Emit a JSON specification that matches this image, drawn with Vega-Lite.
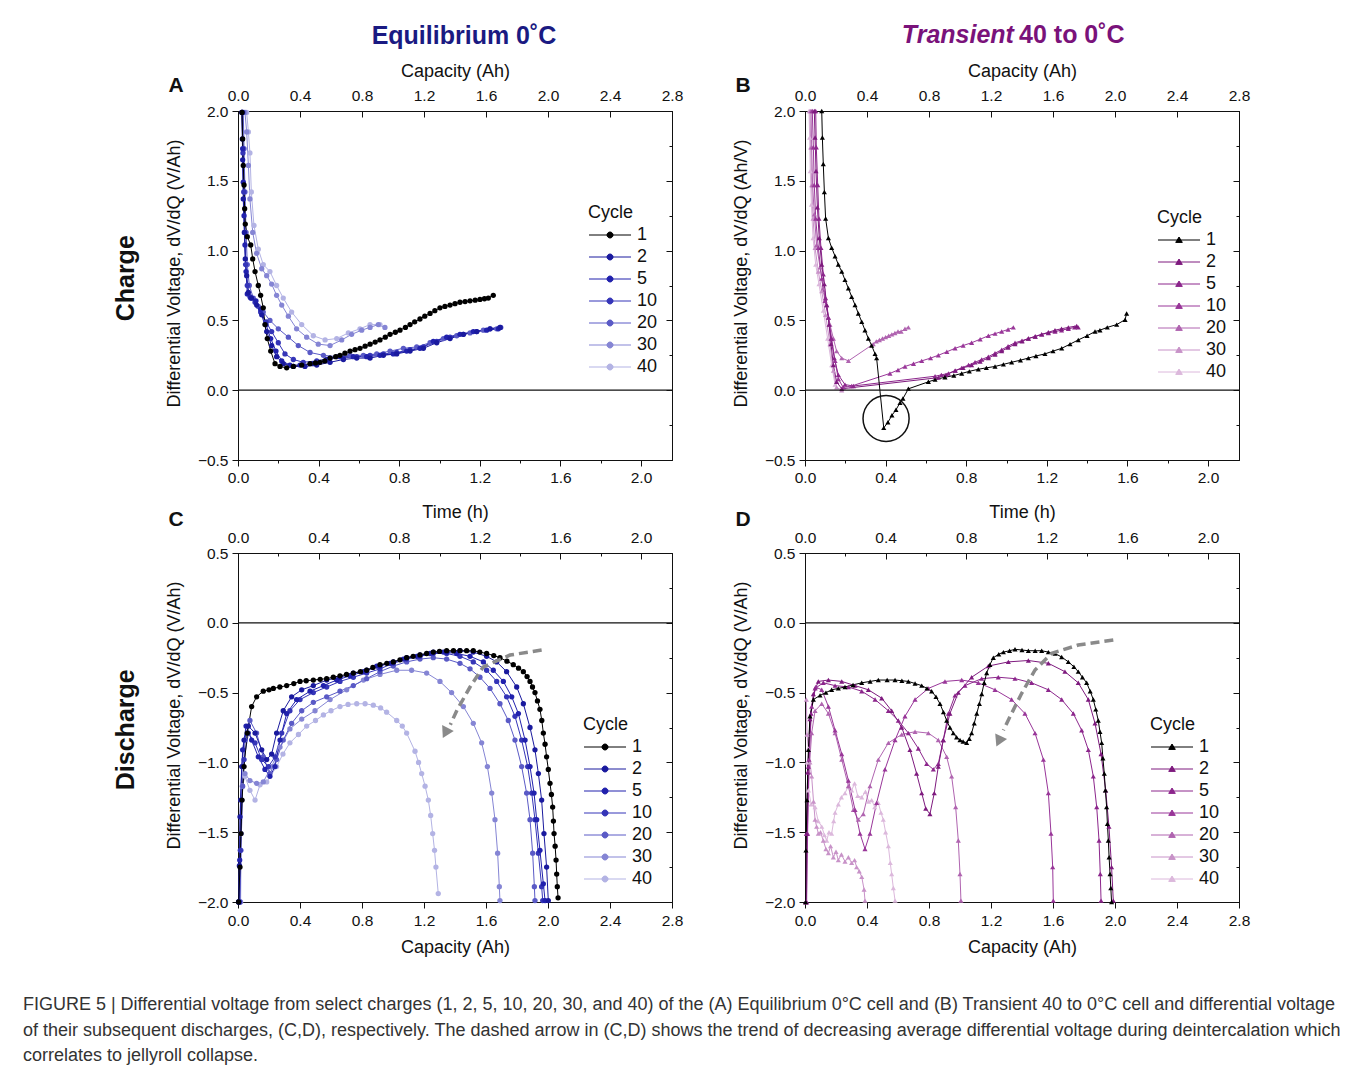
{
"$schema": "https://vega.github.io/schema/vega-lite/v6.json",
"background": "white",
"padding": {"left": 22, "top": 22, "right": 5, "bottom": 5},
"config": {
  "font": "Liberation Sans",
  "view": {"stroke": "#111", "strokeWidth": 1},
  "axis": {"labelFont": "Liberation Sans", "titleFont": "Liberation Sans", "labelFontSize": 15.5, "titleFontSize": 18, "labelColor": "#111", "titleColor": "#111", "titleFontWeight": "normal", "domainColor": "#111", "tickColor": "#111", "grid": false, "labelFlush": false, "labelOverlap": false, "labelBound": false, "tickWidth": 1, "domainWidth": 1},
  "legend": {"labelFont": "Liberation Sans", "titleFont": "Liberation Sans"},
  "title": {"font": "Liberation Sans"},
  "text": {"font": "Liberation Sans"}
},
"datasets": {
"A": [
{"c":"40","x":0.056,"y":1.99},{"c":"40","x":0.067,"y":1.85},{"c":"40","x":0.077,"y":1.7},{"c":"40","x":0.086,"y":1.42},{"c":"40","x":0.103,"y":1.18},{"c":"40","x":0.131,"y":1.01},{"c":"40","x":0.163,"y":0.9},{"c":"40","x":0.206,"y":0.85},{"c":"40","x":0.249,"y":0.75},{"c":"40","x":0.292,"y":0.66},{"c":"40","x":0.346,"y":0.56},{"c":"40","x":0.411,"y":0.47},{"c":"40","x":0.486,"y":0.39},{"c":"40","x":0.562,"y":0.36},{"c":"40","x":0.637,"y":0.37},{"c":"40","x":0.712,"y":0.41},{"c":"40","x":0.787,"y":0.44},{"c":"40","x":0.852,"y":0.47},{"c":"40","x":0.916,"y":0.47},
{"c":"30","x":0.045,"y":1.99},{"c":"30","x":0.056,"y":1.85},{"c":"30","x":0.067,"y":1.61},{"c":"30","x":0.077,"y":1.37},{"c":"30","x":0.095,"y":1.13},{"c":"30","x":0.12,"y":0.98},{"c":"30","x":0.153,"y":0.87},{"c":"30","x":0.185,"y":0.82},{"c":"30","x":0.217,"y":0.76},{"c":"30","x":0.249,"y":0.68},{"c":"30","x":0.282,"y":0.61},{"c":"30","x":0.325,"y":0.53},{"c":"30","x":0.378,"y":0.44},{"c":"30","x":0.443,"y":0.38},{"c":"30","x":0.518,"y":0.33},{"c":"30","x":0.594,"y":0.32},{"c":"30","x":0.669,"y":0.36},{"c":"30","x":0.733,"y":0.4},{"c":"30","x":0.798,"y":0.43},{"c":"30","x":0.852,"y":0.45},{"c":"30","x":0.905,"y":0.47},{"c":"30","x":0.948,"y":0.45},
{"c":"20","x":0.034,"y":1.99},{"c":"20","x":0.039,"y":1.73},{"c":"20","x":0.045,"y":1.42},{"c":"20","x":0.052,"y":1.13},{"c":"20","x":0.06,"y":0.9},{"c":"20","x":0.073,"y":0.75},{"c":"20","x":0.099,"y":0.66},{"c":"20","x":0.131,"y":0.6},{"c":"20","x":0.163,"y":0.56},{"c":"20","x":0.206,"y":0.5},{"c":"20","x":0.26,"y":0.44},{"c":"20","x":0.325,"y":0.38},{"c":"20","x":0.389,"y":0.32},{"c":"20","x":0.465,"y":0.27},{"c":"20","x":0.551,"y":0.25},{"c":"20","x":0.637,"y":0.24},{"c":"20","x":0.723,"y":0.25},{"c":"20","x":0.809,"y":0.25},{"c":"20","x":0.895,"y":0.26},{"c":"20","x":0.981,"y":0.28},{"c":"20","x":1.067,"y":0.3},{"c":"20","x":1.153,"y":0.31},{"c":"20","x":1.239,"y":0.34},{"c":"20","x":1.325,"y":0.37},{"c":"20","x":1.411,"y":0.39},{"c":"20","x":1.497,"y":0.41},{"c":"20","x":1.583,"y":0.43},{"c":"20","x":1.669,"y":0.44},
{"c":"10","x":0.028,"y":1.99},{"c":"10","x":0.032,"y":1.7},{"c":"10","x":0.037,"y":1.42},{"c":"10","x":0.043,"y":1.13},{"c":"10","x":0.049,"y":0.9},{"c":"10","x":0.06,"y":0.75},{"c":"10","x":0.077,"y":0.67},{"c":"10","x":0.11,"y":0.63},{"c":"10","x":0.146,"y":0.56},{"c":"10","x":0.181,"y":0.49},{"c":"10","x":0.217,"y":0.42},{"c":"10","x":0.26,"y":0.34},{"c":"10","x":0.303,"y":0.26},{"c":"10","x":0.357,"y":0.22},{"c":"10","x":0.421,"y":0.2},{"c":"10","x":0.508,"y":0.21},{"c":"10","x":0.594,"y":0.23},{"c":"10","x":0.68,"y":0.23},{"c":"10","x":0.766,"y":0.24},{"c":"10","x":0.852,"y":0.25},{"c":"10","x":0.938,"y":0.26},{"c":"10","x":1.024,"y":0.27},{"c":"10","x":1.11,"y":0.29},{"c":"10","x":1.196,"y":0.31},{"c":"10","x":1.282,"y":0.35},{"c":"10","x":1.368,"y":0.38},{"c":"10","x":1.454,"y":0.4},{"c":"10","x":1.54,"y":0.42},{"c":"10","x":1.626,"y":0.44},{"c":"10","x":1.695,"y":0.45},
{"c":"5","x":0.026,"y":1.99},{"c":"5","x":0.03,"y":1.73},{"c":"5","x":0.034,"y":1.49},{"c":"5","x":0.039,"y":1.25},{"c":"5","x":0.045,"y":1.04},{"c":"5","x":0.052,"y":0.85},{"c":"5","x":0.06,"y":0.69},{"c":"5","x":0.082,"y":0.66},{"c":"5","x":0.116,"y":0.64},{"c":"5","x":0.146,"y":0.58},{"c":"5","x":0.181,"y":0.47},{"c":"5","x":0.211,"y":0.37},{"c":"5","x":0.245,"y":0.28},{"c":"5","x":0.282,"y":0.21},{"c":"5","x":0.335,"y":0.18},{"c":"5","x":0.4,"y":0.18},{"c":"5","x":0.486,"y":0.19},{"c":"5","x":0.572,"y":0.22},{"c":"5","x":0.658,"y":0.24},{"c":"5","x":0.744,"y":0.24},{"c":"5","x":0.83,"y":0.24},{"c":"5","x":0.916,"y":0.25},{"c":"5","x":1.002,"y":0.26},{"c":"5","x":1.088,"y":0.28},{"c":"5","x":1.174,"y":0.3},{"c":"5","x":1.26,"y":0.35},{"c":"5","x":1.346,"y":0.38},{"c":"5","x":1.432,"y":0.4},{"c":"5","x":1.518,"y":0.42},{"c":"5","x":1.604,"y":0.43},{"c":"5","x":1.68,"y":0.44},
{"c":"2","x":0.025,"y":1.99},{"c":"2","x":0.028,"y":1.8},{"c":"2","x":0.03,"y":1.65},{"c":"2","x":0.034,"y":1.37},{"c":"2","x":0.041,"y":1.13},{"c":"2","x":0.047,"y":0.94},{"c":"2","x":0.056,"y":0.82},{"c":"2","x":0.067,"y":0.7},{"c":"2","x":0.088,"y":0.66},{"c":"2","x":0.12,"y":0.61},{"c":"2","x":0.153,"y":0.54},{"c":"2","x":0.185,"y":0.42},{"c":"2","x":0.217,"y":0.32},{"c":"2","x":0.249,"y":0.24},{"c":"2","x":0.292,"y":0.19},{"c":"2","x":0.357,"y":0.17},{"c":"2","x":0.432,"y":0.17},{"c":"2","x":0.508,"y":0.18},{"c":"2","x":0.594,"y":0.2},{"c":"2","x":0.68,"y":0.22},{"c":"2","x":0.766,"y":0.23},{"c":"2","x":0.852,"y":0.23},{"c":"2","x":0.938,"y":0.25},{"c":"2","x":1.024,"y":0.26},{"c":"2","x":1.11,"y":0.28},{"c":"2","x":1.196,"y":0.3},{"c":"2","x":1.282,"y":0.34},{"c":"2","x":1.368,"y":0.37},{"c":"2","x":1.454,"y":0.4},{"c":"2","x":1.54,"y":0.42},{"c":"2","x":1.626,"y":0.44},{"c":"2","x":1.69,"y":0.45},
{"c":"1","x":0.026,"y":1.99},{"c":"1","x":0.03,"y":1.8},{"c":"1","x":0.034,"y":1.61},{"c":"1","x":0.039,"y":1.47},{"c":"1","x":0.043,"y":1.3},{"c":"1","x":0.047,"y":1.19},{"c":"1","x":0.06,"y":1.1},{"c":"1","x":0.082,"y":1.04},{"c":"1","x":0.095,"y":0.94},{"c":"1","x":0.11,"y":0.85},{"c":"1","x":0.131,"y":0.75},{"c":"1","x":0.146,"y":0.68},{"c":"1","x":0.163,"y":0.59},{"c":"1","x":0.174,"y":0.47},{"c":"1","x":0.189,"y":0.37},{"c":"1","x":0.211,"y":0.28},{"c":"1","x":0.239,"y":0.19},{"c":"1","x":0.271,"y":0.17},{"c":"1","x":0.314,"y":0.16},{"c":"1","x":0.357,"y":0.17},{"c":"1","x":0.411,"y":0.18},{"c":"1","x":0.465,"y":0.19},{"c":"1","x":0.5,"y":0.195},{"c":"1","x":0.529,"y":0.2},{"c":"1","x":0.56,"y":0.21},{"c":"1","x":0.594,"y":0.23},{"c":"1","x":0.63,"y":0.24},{"c":"1","x":0.658,"y":0.25},{"c":"1","x":0.69,"y":0.265},{"c":"1","x":0.723,"y":0.28},{"c":"1","x":0.755,"y":0.29},{"c":"1","x":0.787,"y":0.3},{"c":"1","x":0.82,"y":0.315},{"c":"1","x":0.852,"y":0.33},{"c":"1","x":0.885,"y":0.345},{"c":"1","x":0.916,"y":0.36},{"c":"1","x":0.95,"y":0.38},{"c":"1","x":0.981,"y":0.4},{"c":"1","x":1.015,"y":0.415},{"c":"1","x":1.045,"y":0.43},{"c":"1","x":1.08,"y":0.45},{"c":"1","x":1.11,"y":0.47},{"c":"1","x":1.14,"y":0.49},{"c":"1","x":1.174,"y":0.51},{"c":"1","x":1.205,"y":0.53},{"c":"1","x":1.239,"y":0.55},{"c":"1","x":1.27,"y":0.57},{"c":"1","x":1.303,"y":0.59},{"c":"1","x":1.335,"y":0.6},{"c":"1","x":1.368,"y":0.61},{"c":"1","x":1.4,"y":0.62},{"c":"1","x":1.432,"y":0.63},{"c":"1","x":1.465,"y":0.635},{"c":"1","x":1.497,"y":0.64},{"c":"1","x":1.53,"y":0.645},{"c":"1","x":1.561,"y":0.65},{"c":"1","x":1.59,"y":0.655},{"c":"1","x":1.615,"y":0.66},{"c":"1","x":1.647,"y":0.68}
],
"B": [
{"c":"40","x":0.026,"y":2.0},{"c":"40","x":0.03,"y":1.81},{"c":"40","x":0.034,"y":1.57},{"c":"40","x":0.041,"y":1.33},{"c":"40","x":0.052,"y":1.09},{"c":"40","x":0.069,"y":0.9},{"c":"40","x":0.09,"y":0.76},{"c":"40","x":0.118,"y":0.57},{"c":"40","x":0.146,"y":0.37},{"c":"40","x":0.172,"y":0.18},{"c":"40","x":0.194,"y":0.04},
{"c":"30","x":0.032,"y":2.0},{"c":"30","x":0.037,"y":1.74},{"c":"30","x":0.043,"y":1.47},{"c":"30","x":0.052,"y":1.23},{"c":"30","x":0.065,"y":1.02},{"c":"30","x":0.086,"y":0.85},{"c":"30","x":0.108,"y":0.71},{"c":"30","x":0.133,"y":0.54},{"c":"30","x":0.161,"y":0.33},{"c":"30","x":0.183,"y":0.14},{"c":"30","x":0.204,"y":0.02},{"c":"30","x":0.237,"y":0.0},
{"c":"20","x":0.039,"y":2.0},{"c":"20","x":0.043,"y":1.74},{"c":"20","x":0.049,"y":1.47},{"c":"20","x":0.06,"y":1.26},{"c":"20","x":0.075,"y":1.04},{"c":"20","x":0.097,"y":0.88},{"c":"20","x":0.118,"y":0.73},{"c":"20","x":0.14,"y":0.61},{"c":"20","x":0.161,"y":0.47},{"c":"20","x":0.183,"y":0.37},{"c":"20","x":0.204,"y":0.28},{"c":"20","x":0.237,"y":0.23},{"c":"20","x":0.28,"y":0.21},{"c":"20","x":0.44,"y":0.33},{"c":"20","x":0.46,"y":0.35},{"c":"20","x":0.48,"y":0.36},{"c":"20","x":0.5,"y":0.37},{"c":"20","x":0.52,"y":0.38},{"c":"20","x":0.54,"y":0.39},{"c":"20","x":0.56,"y":0.4},{"c":"20","x":0.58,"y":0.41},{"c":"20","x":0.6,"y":0.42},{"c":"20","x":0.62,"y":0.42},{"c":"20","x":0.645,"y":0.44},{"c":"20","x":0.667,"y":0.45},
{"c":"10","x":0.047,"y":2.0},{"c":"10","x":0.054,"y":1.74},{"c":"10","x":0.06,"y":1.47},{"c":"10","x":0.069,"y":1.23},{"c":"10","x":0.086,"y":1.02},{"c":"10","x":0.108,"y":0.8},{"c":"10","x":0.129,"y":0.64},{"c":"10","x":0.151,"y":0.52},{"c":"10","x":0.172,"y":0.37},{"c":"10","x":0.194,"y":0.21},{"c":"10","x":0.215,"y":0.08},{"c":"10","x":0.247,"y":0.02},{"c":"10","x":0.301,"y":0.03},{"c":"10","x":0.548,"y":0.12},{"c":"10","x":0.6,"y":0.145},{"c":"10","x":0.645,"y":0.17},{"c":"10","x":0.7,"y":0.19},{"c":"10","x":0.753,"y":0.21},{"c":"10","x":0.81,"y":0.23},{"c":"10","x":0.86,"y":0.25},{"c":"10","x":0.915,"y":0.275},{"c":"10","x":0.968,"y":0.3},{"c":"10","x":1.02,"y":0.32},{"c":"10","x":1.075,"y":0.34},{"c":"10","x":1.13,"y":0.365},{"c":"10","x":1.183,"y":0.39},{"c":"10","x":1.226,"y":0.405},{"c":"10","x":1.269,"y":0.42},{"c":"10","x":1.31,"y":0.435},{"c":"10","x":1.344,"y":0.45},
{"c":"5","x":0.069,"y":2.0},{"c":"5","x":0.073,"y":1.74},{"c":"5","x":0.082,"y":1.47},{"c":"5","x":0.09,"y":1.23},{"c":"5","x":0.103,"y":1.02},{"c":"5","x":0.118,"y":0.83},{"c":"5","x":0.133,"y":0.66},{"c":"5","x":0.151,"y":0.52},{"c":"5","x":0.168,"y":0.37},{"c":"5","x":0.189,"y":0.23},{"c":"5","x":0.215,"y":0.11},{"c":"5","x":0.258,"y":0.04},{"c":"5","x":0.312,"y":0.03},{"c":"5","x":0.839,"y":0.1},{"c":"5","x":0.88,"y":0.11},{"c":"5","x":0.925,"y":0.12},{"c":"5","x":0.97,"y":0.14},{"c":"5","x":1.011,"y":0.16},{"c":"5","x":1.055,"y":0.18},{"c":"5","x":1.097,"y":0.2},{"c":"5","x":1.14,"y":0.22},{"c":"5","x":1.183,"y":0.24},{"c":"5","x":1.226,"y":0.265},{"c":"5","x":1.269,"y":0.29},{"c":"5","x":1.31,"y":0.315},{"c":"5","x":1.355,"y":0.34},{"c":"5","x":1.4,"y":0.355},{"c":"5","x":1.441,"y":0.37},{"c":"5","x":1.485,"y":0.385},{"c":"5","x":1.527,"y":0.4},{"c":"5","x":1.57,"y":0.41},{"c":"5","x":1.613,"y":0.42},{"c":"5","x":1.655,"y":0.43},{"c":"5","x":1.699,"y":0.44},{"c":"5","x":1.74,"y":0.45},{"c":"5","x":1.763,"y":0.45},
{"c":"2","x":0.06,"y":2.0},{"c":"2","x":0.065,"y":1.81},{"c":"2","x":0.071,"y":1.57},{"c":"2","x":0.08,"y":1.31},{"c":"2","x":0.092,"y":1.09},{"c":"2","x":0.108,"y":0.9},{"c":"2","x":0.125,"y":0.76},{"c":"2","x":0.14,"y":0.61},{"c":"2","x":0.155,"y":0.47},{"c":"2","x":0.168,"y":0.33},{"c":"2","x":0.183,"y":0.18},{"c":"2","x":0.204,"y":0.06},{"c":"2","x":0.237,"y":0.01},{"c":"2","x":0.86,"y":0.09},{"c":"2","x":0.91,"y":0.11},{"c":"2","x":0.968,"y":0.14},{"c":"2","x":1.02,"y":0.16},{"c":"2","x":1.075,"y":0.18},{"c":"2","x":1.13,"y":0.205},{"c":"2","x":1.183,"y":0.23},{"c":"2","x":1.226,"y":0.255},{"c":"2","x":1.269,"y":0.28},{"c":"2","x":1.31,"y":0.305},{"c":"2","x":1.355,"y":0.33},{"c":"2","x":1.4,"y":0.35},{"c":"2","x":1.441,"y":0.37},{"c":"2","x":1.485,"y":0.385},{"c":"2","x":1.527,"y":0.4},{"c":"2","x":1.57,"y":0.415},{"c":"2","x":1.613,"y":0.43},{"c":"2","x":1.655,"y":0.44},{"c":"2","x":1.699,"y":0.45},{"c":"2","x":1.753,"y":0.46},
{"c":"1","x":0.108,"y":2.0},{"c":"1","x":0.112,"y":1.81},{"c":"1","x":0.118,"y":1.62},{"c":"1","x":0.125,"y":1.42},{"c":"1","x":0.133,"y":1.23},{"c":"1","x":0.151,"y":1.09},{"c":"1","x":0.172,"y":1.02},{"c":"1","x":0.194,"y":0.96},{"c":"1","x":0.215,"y":0.9},{"c":"1","x":0.237,"y":0.85},{"c":"1","x":0.258,"y":0.79},{"c":"1","x":0.28,"y":0.73},{"c":"1","x":0.301,"y":0.67},{"c":"1","x":0.323,"y":0.61},{"c":"1","x":0.344,"y":0.55},{"c":"1","x":0.366,"y":0.49},{"c":"1","x":0.387,"y":0.43},{"c":"1","x":0.409,"y":0.37},{"c":"1","x":0.43,"y":0.32},{"c":"1","x":0.452,"y":0.26},{"c":"1","x":0.462,"y":0.23},{"c":"1","x":0.508,"y":-0.27},{"c":"1","x":0.535,"y":-0.23},{"c":"1","x":0.561,"y":-0.18},{"c":"1","x":0.587,"y":-0.14},{"c":"1","x":0.613,"y":-0.09},{"c":"1","x":0.632,"y":-0.06},{"c":"1","x":0.667,"y":0.01},{"c":"1","x":0.796,"y":0.06},{"c":"1","x":0.839,"y":0.076},{"c":"1","x":0.903,"y":0.093},{"c":"1","x":0.96,"y":0.105},{"c":"1","x":1.011,"y":0.12},{"c":"1","x":1.06,"y":0.135},{"c":"1","x":1.118,"y":0.15},{"c":"1","x":1.17,"y":0.16},{"c":"1","x":1.226,"y":0.17},{"c":"1","x":1.28,"y":0.185},{"c":"1","x":1.333,"y":0.2},{"c":"1","x":1.39,"y":0.215},{"c":"1","x":1.441,"y":0.23},{"c":"1","x":1.49,"y":0.245},{"c":"1","x":1.548,"y":0.26},{"c":"1","x":1.6,"y":0.28},{"c":"1","x":1.656,"y":0.3},{"c":"1","x":1.71,"y":0.33},{"c":"1","x":1.763,"y":0.36},{"c":"1","x":1.82,"y":0.39},{"c":"1","x":1.871,"y":0.42},{"c":"1","x":1.903,"y":0.43},{"c":"1","x":1.95,"y":0.45},{"c":"1","x":2.011,"y":0.47},{"c":"1","x":2.065,"y":0.505},{"c":"1","x":2.075,"y":0.55}
],
"C": [
{"c":"40","x":0.017,"y":-2.0},{"c":"40","x":0.022,"y":-1.51},{"c":"40","x":0.028,"y":-1.17},{"c":"40","x":0.045,"y":-1.1},{"c":"40","x":0.077,"y":-1.2},{"c":"40","x":0.11,"y":-1.27},{"c":"40","x":0.142,"y":-1.16},{"c":"40","x":0.185,"y":-1.14},{"c":"40","x":0.249,"y":-1.03},{"c":"40","x":0.29,"y":-0.94},{"c":"40","x":0.335,"y":-0.86},{"c":"40","x":0.39,"y":-0.8},{"c":"40","x":0.443,"y":-0.74},{"c":"40","x":0.5,"y":-0.7},{"c":"40","x":0.551,"y":-0.66},{"c":"40","x":0.6,"y":-0.63},{"c":"40","x":0.658,"y":-0.6},{"c":"40","x":0.71,"y":-0.585},{"c":"40","x":0.766,"y":-0.58},{"c":"40","x":0.82,"y":-0.58},{"c":"40","x":0.873,"y":-0.59},{"c":"40","x":0.92,"y":-0.61},{"c":"40","x":0.959,"y":-0.64},{"c":"40","x":1.024,"y":-0.7},{"c":"40","x":1.06,"y":-0.74},{"c":"40","x":1.088,"y":-0.79},{"c":"40","x":1.142,"y":-0.92},{"c":"40","x":1.165,"y":-1.0},{"c":"40","x":1.185,"y":-1.08},{"c":"40","x":1.207,"y":-1.17},{"c":"40","x":1.228,"y":-1.27},{"c":"40","x":1.243,"y":-1.38},{"c":"40","x":1.256,"y":-1.51},{"c":"40","x":1.268,"y":-1.63},{"c":"40","x":1.277,"y":-1.75},{"c":"40","x":1.292,"y":-1.94},
{"c":"30","x":0.013,"y":-2.0},{"c":"30","x":0.019,"y":-1.51},{"c":"30","x":0.028,"y":-1.17},{"c":"30","x":0.045,"y":-1.08},{"c":"30","x":0.077,"y":-1.13},{"c":"30","x":0.12,"y":-1.15},{"c":"30","x":0.163,"y":-1.14},{"c":"30","x":0.217,"y":-1.03},{"c":"30","x":0.271,"y":-0.89},{"c":"30","x":0.335,"y":-0.76},{"c":"30","x":0.411,"y":-0.69},{"c":"30","x":0.497,"y":-0.63},{"c":"30","x":0.594,"y":-0.55},{"c":"30","x":0.701,"y":-0.48},{"c":"30","x":0.809,"y":-0.41},{"c":"30","x":0.916,"y":-0.37},{"c":"30","x":1.024,"y":-0.34},{"c":"30","x":1.12,"y":-0.34},{"c":"30","x":1.217,"y":-0.36},{"c":"30","x":1.303,"y":-0.42},{"c":"30","x":1.378,"y":-0.5},{"c":"30","x":1.454,"y":-0.6},{"c":"30","x":1.518,"y":-0.72},{"c":"30","x":1.572,"y":-0.86},{"c":"30","x":1.609,"y":-1.03},{"c":"30","x":1.637,"y":-1.22},{"c":"30","x":1.658,"y":-1.41},{"c":"30","x":1.675,"y":-1.65},{"c":"30","x":1.686,"y":-1.89},{"c":"30","x":1.69,"y":-1.99},
{"c":"20","x":0.013,"y":-2.0},{"c":"20","x":0.019,"y":-1.63},{"c":"20","x":0.03,"y":-1.17},{"c":"20","x":0.045,"y":-0.84},{"c":"20","x":0.077,"y":-0.7},{"c":"20","x":0.12,"y":-0.79},{"c":"20","x":0.163,"y":-0.96},{"c":"20","x":0.206,"y":-1.08},{"c":"20","x":0.249,"y":-0.98},{"c":"20","x":0.292,"y":-0.84},{"c":"20","x":0.346,"y":-0.72},{"c":"20","x":0.411,"y":-0.63},{"c":"20","x":0.486,"y":-0.57},{"c":"20","x":0.572,"y":-0.53},{"c":"20","x":0.658,"y":-0.49},{"c":"20","x":0.744,"y":-0.45},{"c":"20","x":0.83,"y":-0.4},{"c":"20","x":0.916,"y":-0.35},{"c":"20","x":1.002,"y":-0.31},{"c":"20","x":1.088,"y":-0.28},{"c":"20","x":1.174,"y":-0.26},{"c":"20","x":1.26,"y":-0.25},{"c":"20","x":1.346,"y":-0.26},{"c":"20","x":1.432,"y":-0.29},{"c":"20","x":1.497,"y":-0.33},{"c":"20","x":1.561,"y":-0.39},{"c":"20","x":1.626,"y":-0.47},{"c":"20","x":1.69,"y":-0.58},{"c":"20","x":1.744,"y":-0.7},{"c":"20","x":1.787,"y":-0.84},{"c":"20","x":1.83,"y":-1.03},{"c":"20","x":1.862,"y":-1.22},{"c":"20","x":1.884,"y":-1.41},{"c":"20","x":1.901,"y":-1.65},{"c":"20","x":1.912,"y":-1.89},{"c":"20","x":1.916,"y":-1.99},
{"c":"10","x":0.009,"y":-2.0},{"c":"10","x":0.015,"y":-1.63},{"c":"10","x":0.024,"y":-1.27},{"c":"10","x":0.039,"y":-0.98},{"c":"10","x":0.067,"y":-0.79},{"c":"10","x":0.11,"y":-0.86},{"c":"10","x":0.153,"y":-0.98},{"c":"10","x":0.196,"y":-1.03},{"c":"10","x":0.239,"y":-0.96},{"c":"10","x":0.282,"y":-0.79},{"c":"10","x":0.335,"y":-0.63},{"c":"10","x":0.4,"y":-0.55},{"c":"10","x":0.486,"y":-0.5},{"c":"10","x":0.572,"y":-0.46},{"c":"10","x":0.658,"y":-0.42},{"c":"10","x":0.744,"y":-0.39},{"c":"10","x":0.83,"y":-0.36},{"c":"10","x":0.916,"y":-0.33},{"c":"10","x":1.002,"y":-0.29},{"c":"10","x":1.088,"y":-0.26},{"c":"10","x":1.174,"y":-0.24},{"c":"10","x":1.26,"y":-0.22},{"c":"10","x":1.346,"y":-0.22},{"c":"10","x":1.432,"y":-0.24},{"c":"10","x":1.518,"y":-0.28},{"c":"10","x":1.604,"y":-0.34},{"c":"10","x":1.669,"y":-0.42},{"c":"10","x":1.733,"y":-0.53},{"c":"10","x":1.787,"y":-0.67},{"c":"10","x":1.83,"y":-0.84},{"c":"10","x":1.869,"y":-1.03},{"c":"10","x":1.895,"y":-1.22},{"c":"10","x":1.916,"y":-1.41},{"c":"10","x":1.938,"y":-1.65},{"c":"10","x":1.959,"y":-1.89},{"c":"10","x":1.966,"y":-1.99},
{"c":"5","x":0.004,"y":-2.0},{"c":"5","x":0.011,"y":-1.7},{"c":"5","x":0.017,"y":-1.27},{"c":"5","x":0.03,"y":-0.91},{"c":"5","x":0.052,"y":-0.74},{"c":"5","x":0.088,"y":-0.84},{"c":"5","x":0.131,"y":-0.96},{"c":"5","x":0.174,"y":-1.05},{"c":"5","x":0.206,"y":-1.1},{"c":"5","x":0.239,"y":-1.03},{"c":"5","x":0.271,"y":-0.84},{"c":"5","x":0.314,"y":-0.65},{"c":"5","x":0.378,"y":-0.55},{"c":"5","x":0.465,"y":-0.49},{"c":"5","x":0.551,"y":-0.45},{"c":"5","x":0.637,"y":-0.41},{"c":"5","x":0.723,"y":-0.38},{"c":"5","x":0.809,"y":-0.35},{"c":"5","x":0.895,"y":-0.31},{"c":"5","x":0.981,"y":-0.29},{"c":"5","x":1.067,"y":-0.26},{"c":"5","x":1.153,"y":-0.24},{"c":"5","x":1.239,"y":-0.22},{"c":"5","x":1.325,"y":-0.21},{"c":"5","x":1.411,"y":-0.22},{"c":"5","x":1.497,"y":-0.24},{"c":"5","x":1.583,"y":-0.28},{"c":"5","x":1.647,"y":-0.34},{"c":"5","x":1.712,"y":-0.42},{"c":"5","x":1.766,"y":-0.53},{"c":"5","x":1.809,"y":-0.65},{"c":"5","x":1.852,"y":-0.84},{"c":"5","x":1.884,"y":-1.03},{"c":"5","x":1.91,"y":-1.22},{"c":"5","x":1.927,"y":-1.41},{"c":"5","x":1.948,"y":-1.63},{"c":"5","x":1.97,"y":-1.87},{"c":"5","x":1.981,"y":-1.99},
{"c":"2","x":0.004,"y":-2.0},{"c":"2","x":0.009,"y":-1.74},{"c":"2","x":0.013,"y":-1.39},{"c":"2","x":0.024,"y":-1.03},{"c":"2","x":0.039,"y":-0.84},{"c":"2","x":0.067,"y":-0.74},{"c":"2","x":0.11,"y":-0.79},{"c":"2","x":0.153,"y":-0.91},{"c":"2","x":0.185,"y":-0.98},{"c":"2","x":0.217,"y":-0.94},{"c":"2","x":0.249,"y":-0.79},{"c":"2","x":0.292,"y":-0.63},{"c":"2","x":0.346,"y":-0.53},{"c":"2","x":0.411,"y":-0.48},{"c":"2","x":0.486,"y":-0.45},{"c":"2","x":0.572,"y":-0.41},{"c":"2","x":0.658,"y":-0.39},{"c":"2","x":0.744,"y":-0.36},{"c":"2","x":0.83,"y":-0.34},{"c":"2","x":0.916,"y":-0.31},{"c":"2","x":1.002,"y":-0.28},{"c":"2","x":1.088,"y":-0.25},{"c":"2","x":1.174,"y":-0.23},{"c":"2","x":1.26,"y":-0.21},{"c":"2","x":1.346,"y":-0.21},{"c":"2","x":1.432,"y":-0.2},{"c":"2","x":1.518,"y":-0.21},{"c":"2","x":1.604,"y":-0.24},{"c":"2","x":1.669,"y":-0.28},{"c":"2","x":1.733,"y":-0.35},{"c":"2","x":1.798,"y":-0.46},{"c":"2","x":1.841,"y":-0.58},{"c":"2","x":1.884,"y":-0.75},{"c":"2","x":1.916,"y":-0.91},{"c":"2","x":1.938,"y":-1.08},{"c":"2","x":1.959,"y":-1.27},{"c":"2","x":1.974,"y":-1.51},{"c":"2","x":1.991,"y":-1.75},{"c":"2","x":2.002,"y":-1.99},
{"c":"1","x":0.004,"y":-2.0},{"c":"1","x":0.013,"y":-1.75},{"c":"1","x":0.019,"y":-1.51},{"c":"1","x":0.026,"y":-1.27},{"c":"1","x":0.039,"y":-1.03},{"c":"1","x":0.06,"y":-0.79},{"c":"1","x":0.088,"y":-0.6},{"c":"1","x":0.12,"y":-0.53},{"c":"1","x":0.163,"y":-0.49},{"c":"1","x":0.2,"y":-0.48},{"c":"1","x":0.228,"y":-0.47},{"c":"1","x":0.27,"y":-0.46},{"c":"1","x":0.314,"y":-0.45},{"c":"1","x":0.36,"y":-0.435},{"c":"1","x":0.4,"y":-0.42},{"c":"1","x":0.44,"y":-0.415},{"c":"1","x":0.486,"y":-0.41},{"c":"1","x":0.53,"y":-0.405},{"c":"1","x":0.572,"y":-0.4},{"c":"1","x":0.615,"y":-0.39},{"c":"1","x":0.658,"y":-0.38},{"c":"1","x":0.7,"y":-0.37},{"c":"1","x":0.744,"y":-0.36},{"c":"1","x":0.79,"y":-0.35},{"c":"1","x":0.83,"y":-0.34},{"c":"1","x":0.87,"y":-0.32},{"c":"1","x":0.916,"y":-0.3},{"c":"1","x":0.96,"y":-0.29},{"c":"1","x":1.002,"y":-0.28},{"c":"1","x":1.045,"y":-0.265},{"c":"1","x":1.088,"y":-0.25},{"c":"1","x":1.13,"y":-0.24},{"c":"1","x":1.174,"y":-0.23},{"c":"1","x":1.217,"y":-0.22},{"c":"1","x":1.26,"y":-0.21},{"c":"1","x":1.3,"y":-0.205},{"c":"1","x":1.346,"y":-0.2},{"c":"1","x":1.39,"y":-0.2},{"c":"1","x":1.432,"y":-0.2},{"c":"1","x":1.475,"y":-0.2},{"c":"1","x":1.518,"y":-0.2},{"c":"1","x":1.56,"y":-0.21},{"c":"1","x":1.604,"y":-0.22},{"c":"1","x":1.65,"y":-0.235},{"c":"1","x":1.69,"y":-0.25},{"c":"1","x":1.735,"y":-0.275},{"c":"1","x":1.776,"y":-0.3},{"c":"1","x":1.81,"y":-0.325},{"c":"1","x":1.841,"y":-0.35},{"c":"1","x":1.865,"y":-0.385},{"c":"1","x":1.884,"y":-0.42},{"c":"1","x":1.9,"y":-0.46},{"c":"1","x":1.916,"y":-0.5},{"c":"1","x":1.932,"y":-0.56},{"c":"1","x":1.948,"y":-0.62},{"c":"1","x":1.96,"y":-0.7},{"c":"1","x":1.97,"y":-0.79},{"c":"1","x":1.981,"y":-0.87},{"c":"1","x":1.991,"y":-0.96},{"c":"1","x":2.002,"y":-1.05},{"c":"1","x":2.013,"y":-1.15},{"c":"1","x":2.022,"y":-1.23},{"c":"1","x":2.03,"y":-1.32},{"c":"1","x":2.035,"y":-1.42},{"c":"1","x":2.039,"y":-1.51},{"c":"1","x":2.046,"y":-1.6},{"c":"1","x":2.052,"y":-1.7},{"c":"1","x":2.056,"y":-1.8},{"c":"1","x":2.06,"y":-1.89},{"c":"1","x":2.065,"y":-1.97}
],
"D": [
{"c":"40","x":0.013,"y":-1.0},{"c":"40","x":0.022,"y":-1.2},{"c":"40","x":0.04,"y":-1.3},{"c":"40","x":0.065,"y":-1.32},{"c":"40","x":0.085,"y":-1.42},{"c":"40","x":0.108,"y":-1.46},{"c":"40","x":0.125,"y":-1.52},{"c":"40","x":0.14,"y":-1.56},{"c":"40","x":0.155,"y":-1.5},{"c":"40","x":0.172,"y":-1.51},{"c":"40","x":0.185,"y":-1.42},{"c":"40","x":0.194,"y":-1.36},{"c":"40","x":0.215,"y":-1.3},{"c":"40","x":0.235,"y":-1.25},{"c":"40","x":0.258,"y":-1.22},{"c":"40","x":0.28,"y":-1.17},{"c":"40","x":0.301,"y":-1.2},{"c":"40","x":0.32,"y":-1.15},{"c":"40","x":0.34,"y":-1.24},{"c":"40","x":0.366,"y":-1.25},{"c":"40","x":0.39,"y":-1.21},{"c":"40","x":0.41,"y":-1.28},{"c":"40","x":0.43,"y":-1.27},{"c":"40","x":0.45,"y":-1.32},{"c":"40","x":0.473,"y":-1.29},{"c":"40","x":0.49,"y":-1.36},{"c":"40","x":0.505,"y":-1.41},{"c":"40","x":0.52,"y":-1.5},{"c":"40","x":0.538,"y":-1.6},{"c":"40","x":0.55,"y":-1.72},{"c":"40","x":0.559,"y":-1.8},{"c":"40","x":0.57,"y":-1.9},{"c":"40","x":0.581,"y":-1.99},
{"c":"30","x":0.009,"y":-0.55},{"c":"30","x":0.013,"y":-0.8},{"c":"30","x":0.022,"y":-0.9},{"c":"30","x":0.032,"y":-1.0},{"c":"30","x":0.043,"y":-1.1},{"c":"30","x":0.055,"y":-1.28},{"c":"30","x":0.065,"y":-1.41},{"c":"30","x":0.075,"y":-1.46},{"c":"30","x":0.086,"y":-1.51},{"c":"30","x":0.1,"y":-1.5},{"c":"30","x":0.118,"y":-1.56},{"c":"30","x":0.135,"y":-1.62},{"c":"30","x":0.151,"y":-1.65},{"c":"30","x":0.165,"y":-1.6},{"c":"30","x":0.183,"y":-1.68},{"c":"30","x":0.2,"y":-1.64},{"c":"30","x":0.215,"y":-1.7},{"c":"30","x":0.235,"y":-1.66},{"c":"30","x":0.258,"y":-1.71},{"c":"30","x":0.28,"y":-1.68},{"c":"30","x":0.301,"y":-1.72},{"c":"30","x":0.32,"y":-1.7},{"c":"30","x":0.333,"y":-1.75},{"c":"30","x":0.35,"y":-1.78},{"c":"30","x":0.366,"y":-1.82},{"c":"30","x":0.381,"y":-1.91},{"c":"30","x":0.387,"y":-1.99},
{"c":"20","x":0.011,"y":-2.0},{"c":"20","x":0.017,"y":-1.51},{"c":"20","x":0.026,"y":-1.07},{"c":"20","x":0.043,"y":-0.79},{"c":"20","x":0.065,"y":-0.63},{"c":"20","x":0.108,"y":-0.58},{"c":"20","x":0.151,"y":-0.65},{"c":"20","x":0.194,"y":-0.79},{"c":"20","x":0.237,"y":-0.98},{"c":"20","x":0.28,"y":-1.17},{"c":"20","x":0.312,"y":-1.34},{"c":"20","x":0.344,"y":-1.41},{"c":"20","x":0.376,"y":-1.37},{"c":"20","x":0.419,"y":-1.17},{"c":"20","x":0.473,"y":-0.98},{"c":"20","x":0.538,"y":-0.86},{"c":"20","x":0.624,"y":-0.8},{"c":"20","x":0.71,"y":-0.78},{"c":"20","x":0.796,"y":-0.79},{"c":"20","x":0.86,"y":-0.84},{"c":"20","x":0.914,"y":-0.96},{"c":"20","x":0.946,"y":-1.1},{"c":"20","x":0.972,"y":-1.32},{"c":"20","x":0.989,"y":-1.56},{"c":"20","x":1.0,"y":-1.8},{"c":"20","x":1.006,"y":-1.99},
{"c":"10","x":0.009,"y":-2.0},{"c":"10","x":0.015,"y":-1.51},{"c":"10","x":0.026,"y":-0.98},{"c":"10","x":0.043,"y":-0.6},{"c":"10","x":0.069,"y":-0.46},{"c":"10","x":0.108,"y":-0.48},{"c":"10","x":0.151,"y":-0.6},{"c":"10","x":0.194,"y":-0.77},{"c":"10","x":0.237,"y":-0.94},{"c":"10","x":0.28,"y":-1.13},{"c":"10","x":0.323,"y":-1.34},{"c":"10","x":0.355,"y":-1.51},{"c":"10","x":0.387,"y":-1.62},{"c":"10","x":0.419,"y":-1.51},{"c":"10","x":0.462,"y":-1.29},{"c":"10","x":0.516,"y":-1.05},{"c":"10","x":0.581,"y":-0.84},{"c":"10","x":0.645,"y":-0.67},{"c":"10","x":0.71,"y":-0.55},{"c":"10","x":0.796,"y":-0.47},{"c":"10","x":0.903,"y":-0.42},{"c":"10","x":1.011,"y":-0.41},{"c":"10","x":1.118,"y":-0.43},{"c":"10","x":1.226,"y":-0.48},{"c":"10","x":1.333,"y":-0.55},{"c":"10","x":1.419,"y":-0.65},{"c":"10","x":1.484,"y":-0.79},{"c":"10","x":1.538,"y":-0.98},{"c":"10","x":1.57,"y":-1.22},{"c":"10","x":1.587,"y":-1.51},{"c":"10","x":1.598,"y":-1.75},{"c":"10","x":1.602,"y":-1.99},
{"c":"5","x":0.006,"y":-2.0},{"c":"5","x":0.013,"y":-1.51},{"c":"5","x":0.022,"y":-1.03},{"c":"5","x":0.039,"y":-0.65},{"c":"5","x":0.065,"y":-0.47},{"c":"5","x":0.118,"y":-0.43},{"c":"5","x":0.194,"y":-0.45},{"c":"5","x":0.28,"y":-0.46},{"c":"5","x":0.366,"y":-0.49},{"c":"5","x":0.452,"y":-0.55},{"c":"5","x":0.538,"y":-0.63},{"c":"5","x":0.602,"y":-0.7},{"c":"5","x":0.667,"y":-0.79},{"c":"5","x":0.731,"y":-0.9},{"c":"5","x":0.785,"y":-1.01},{"c":"5","x":0.828,"y":-1.05},{"c":"5","x":0.86,"y":-1.01},{"c":"5","x":0.892,"y":-0.84},{"c":"5","x":0.925,"y":-0.65},{"c":"5","x":0.968,"y":-0.52},{"c":"5","x":1.032,"y":-0.45},{"c":"5","x":1.14,"y":-0.4},{"c":"5","x":1.247,"y":-0.39},{"c":"5","x":1.355,"y":-0.4},{"c":"5","x":1.462,"y":-0.43},{"c":"5","x":1.57,"y":-0.48},{"c":"5","x":1.656,"y":-0.55},{"c":"5","x":1.731,"y":-0.65},{"c":"5","x":1.785,"y":-0.77},{"c":"5","x":1.828,"y":-0.91},{"c":"5","x":1.86,"y":-1.1},{"c":"5","x":1.882,"y":-1.32},{"c":"5","x":1.897,"y":-1.56},{"c":"5","x":1.905,"y":-1.8},{"c":"5","x":1.91,"y":-1.99},
{"c":"2","x":0.004,"y":-2.0},{"c":"2","x":0.009,"y":-1.51},{"c":"2","x":0.017,"y":-1.07},{"c":"2","x":0.032,"y":-0.69},{"c":"2","x":0.054,"y":-0.51},{"c":"2","x":0.086,"y":-0.42},{"c":"2","x":0.151,"y":-0.41},{"c":"2","x":0.237,"y":-0.42},{"c":"2","x":0.323,"y":-0.45},{"c":"2","x":0.409,"y":-0.48},{"c":"2","x":0.495,"y":-0.54},{"c":"2","x":0.559,"y":-0.63},{"c":"2","x":0.624,"y":-0.75},{"c":"2","x":0.677,"y":-0.91},{"c":"2","x":0.72,"y":-1.08},{"c":"2","x":0.753,"y":-1.22},{"c":"2","x":0.779,"y":-1.33},{"c":"2","x":0.806,"y":-1.37},{"c":"2","x":0.834,"y":-1.22},{"c":"2","x":0.86,"y":-1.03},{"c":"2","x":0.892,"y":-0.84},{"c":"2","x":0.935,"y":-0.65},{"c":"2","x":0.989,"y":-0.5},{"c":"2","x":1.075,"y":-0.39},{"c":"2","x":1.183,"y":-0.31},{"c":"2","x":1.312,"y":-0.28},{"c":"2","x":1.441,"y":-0.27},{"c":"2","x":1.57,"y":-0.29},{"c":"2","x":1.677,"y":-0.35},{"c":"2","x":1.763,"y":-0.43},{"c":"2","x":1.828,"y":-0.55},{"c":"2","x":1.871,"y":-0.72},{"c":"2","x":1.91,"y":-0.94},{"c":"2","x":1.94,"y":-1.2},{"c":"2","x":1.961,"y":-1.46},{"c":"2","x":1.978,"y":-1.75},{"c":"2","x":1.989,"y":-1.99},
{"c":"1","x":0.004,"y":-2.0},{"c":"1","x":0.006,"y":-1.63},{"c":"1","x":0.013,"y":-1.27},{"c":"1","x":0.022,"y":-0.91},{"c":"1","x":0.032,"y":-0.67},{"c":"1","x":0.054,"y":-0.55},{"c":"1","x":0.097,"y":-0.52},{"c":"1","x":0.135,"y":-0.5},{"c":"1","x":0.172,"y":-0.48},{"c":"1","x":0.215,"y":-0.47},{"c":"1","x":0.258,"y":-0.46},{"c":"1","x":0.31,"y":-0.445},{"c":"1","x":0.366,"y":-0.43},{"c":"1","x":0.42,"y":-0.42},{"c":"1","x":0.473,"y":-0.41},{"c":"1","x":0.53,"y":-0.41},{"c":"1","x":0.581,"y":-0.41},{"c":"1","x":0.625,"y":-0.415},{"c":"1","x":0.667,"y":-0.42},{"c":"1","x":0.71,"y":-0.435},{"c":"1","x":0.753,"y":-0.45},{"c":"1","x":0.787,"y":-0.47},{"c":"1","x":0.817,"y":-0.49},{"c":"1","x":0.845,"y":-0.53},{"c":"1","x":0.871,"y":-0.58},{"c":"1","x":0.893,"y":-0.64},{"c":"1","x":0.914,"y":-0.7},{"c":"1","x":0.935,"y":-0.75},{"c":"1","x":0.957,"y":-0.79},{"c":"1","x":0.978,"y":-0.82},{"c":"1","x":1.0,"y":-0.84},{"c":"1","x":1.02,"y":-0.85},{"c":"1","x":1.043,"y":-0.86},{"c":"1","x":1.06,"y":-0.83},{"c":"1","x":1.075,"y":-0.79},{"c":"1","x":1.092,"y":-0.72},{"c":"1","x":1.108,"y":-0.65},{"c":"1","x":1.125,"y":-0.58},{"c":"1","x":1.14,"y":-0.51},{"c":"1","x":1.156,"y":-0.43},{"c":"1","x":1.172,"y":-0.36},{"c":"1","x":1.193,"y":-0.3},{"c":"1","x":1.215,"y":-0.25},{"c":"1","x":1.25,"y":-0.225},{"c":"1","x":1.28,"y":-0.21},{"c":"1","x":1.32,"y":-0.2},{"c":"1","x":1.355,"y":-0.19},{"c":"1","x":1.4,"y":-0.195},{"c":"1","x":1.441,"y":-0.2},{"c":"1","x":1.485,"y":-0.2},{"c":"1","x":1.527,"y":-0.2},{"c":"1","x":1.57,"y":-0.21},{"c":"1","x":1.613,"y":-0.22},{"c":"1","x":1.656,"y":-0.245},{"c":"1","x":1.699,"y":-0.28},{"c":"1","x":1.735,"y":-0.315},{"c":"1","x":1.763,"y":-0.35},{"c":"1","x":1.79,"y":-0.39},{"c":"1","x":1.817,"y":-0.43},{"c":"1","x":1.84,"y":-0.49},{"c":"1","x":1.86,"y":-0.55},{"c":"1","x":1.876,"y":-0.62},{"c":"1","x":1.892,"y":-0.7},{"c":"1","x":1.903,"y":-0.78},{"c":"1","x":1.914,"y":-0.86},{"c":"1","x":1.922,"y":-0.97},{"c":"1","x":1.931,"y":-1.08},{"c":"1","x":1.938,"y":-1.2},{"c":"1","x":1.946,"y":-1.32},{"c":"1","x":1.951,"y":-1.44},{"c":"1","x":1.957,"y":-1.56},{"c":"1","x":1.962,"y":-1.68},{"c":"1","x":1.968,"y":-1.8},{"c":"1","x":1.973,"y":-1.9},{"c":"1","x":1.978,"y":-2.0}
],
"arrC": [
{"i":1,"x":1.959,"y":-0.195},{"i":2,"x":1.755,"y":-0.231},{"i":3,"x":1.581,"y":-0.317},{"i":4,"x":1.497,"y":-0.46},{"i":5,"x":1.413,"y":-0.625},{"i":6,"x":1.37,"y":-0.73}
],
"arrD": [
{"i":1,"x":1.989,"y":-0.123},{"i":2,"x":1.763,"y":-0.159},{"i":3,"x":1.592,"y":-0.218},{"i":4,"x":1.484,"y":-0.338},{"i":5,"x":1.398,"y":-0.505},{"i":6,"x":1.312,"y":-0.696},{"i":7,"x":1.28,"y":-0.77}
]
},
"title": {
  "text": ["FIGURE 5 | Differential voltage from select charges (1, 2, 5, 10, 20, 30, and 40) of the (A) Equilibrium 0°C cell and (B) Transient 40 to 0°C cell and differential voltage", "of their subsequent discharges, (C,D), respectively. The dashed arrow in (C,D) shows the trend of decreasing average differential voltage during deintercalation which", "correlates to jellyroll collapse."],
  "orient": "bottom", "anchor": "start", "frame": "bounds", "dx": -91, "offset": 39,
  "fontSize": 18, "fontWeight": "normal", "color": "#333", "lineHeight": 25.5
},
"spacing": 16,
"resolve": {"scale": {"color": "independent"}, "legend": {"color": "independent"}},
"vconcat": [
{
 "title": {"text": "Charge", "orient": "left", "anchor": "middle", "fontSize": 25, "fontWeight": "bold", "color": "#111", "offset": 26, "dx": -24},
 "spacing": 47,
 "resolve": {"scale": {"color": "independent"}, "legend": {"color": "independent"}},
 "hconcat": [
  {
   "width": 434, "height": 349,
   "resolve": {"scale": {"x": "independent", "y": "independent"}},
   "layer": [
    {"layer": [
      {"data": {"name": "A"},
       "mark": {"type": "line", "strokeWidth": 1, "point": {"filled": true, "size": 28}},
       "encoding": {
        "x": {"field": "x", "type": "quantitative", "scale": {"domain": [0, 2.8], "nice": false, "zero": false},
              "axis": {"orient": "top", "title": "Capacity (Ah)", "values": [0,0.2,0.4,0.6,0.8,1,1.2,1.4,1.6,1.8,2,2.2,2.4,2.6,2.8], "labelExpr": "round(datum.value*10)%4==0 ? format(datum.value,'.1f') : ''", "tickSize": {"condition": {"test": "round(datum.value*10)%4==0", "value": -6}, "value": -3}, "labelPadding": 14, "titlePadding": 8}},
        "y": {"field": "y", "type": "quantitative", "scale": {"domain": [-0.5, 2], "nice": false, "zero": false},
              "axis": {"orient": "left", "title": "Differential Voltage, dV/dQ (V/Ah)", "titleY": 162, "values": [-0.5,-0.25,0,0.25,0.5,0.75,1,1.25,1.5,1.75,2], "labelExpr": "round(datum.value*4)%2==0 ? format(datum.value,'.1f') : ''", "tickSize": {"condition": {"test": "round(datum.value*4)%2==0", "value": 6}, "value": 3}, "labelPadding": 4, "titlePadding": 14}},
        "color": {"field": "c", "type": "nominal", "scale": {"domain": ["1","2","5","10","20","30","40"], "range": ["#000000","#1a1a9e","#2121ad","#3535b8","#5a5ac6","#8585d4","#b3b3e4"]},
              "legend": {"orient": "none", "legendX": 350, "legendY": 93, "title": "Cycle", "titleFontSize": 18, "titleFontWeight": "normal", "titleColor": "#111", "titlePadding": 4, "labelFontSize": 18, "labelColor": "#111", "labelOffset": 31, "symbolType": "M-1.33,0L5.67,0M1.67,0A0.5,0.5,0,1,0,2.67,0A0.5,0.5,0,1,0,1.67,0ZM1.87,0A0.3,0.3,0,1,0,2.47,0A0.3,0.3,0,1,0,1.87,0ZM2.05,0A0.12,0.12,0,1,0,2.29,0A0.12,0.12,0,1,0,2.05,0Z", "symbolSize": 144, "symbolStrokeWidth": 1, "rowPadding": 4, "padding": 0}}
       }},
      {"data": {"values": [{}]}, "mark": {"type": "rule", "color": "#111", "strokeWidth": 1.2}, "encoding": {"y": {"datum": 0}}},
      {"data": {"values": [{}]}, "mark": {"type": "text", "text": "A", "fontSize": 21, "fontWeight": "bold", "color": "#111"}, "encoding": {"x": {"datum": -0.4}, "y": {"datum": 2.18}}},
      {"data": {"values": [{}]}, "mark": {"type": "text", "text": "Equilibrium 0˚C", "fontSize": 25, "fontWeight": "bold", "color": "#1a1a82"}, "encoding": {"x": {"datum": 1.458}, "y": {"datum": 2.536}}}
    ]},
    {"data": {"values": [{}]}, "mark": {"type": "point", "opacity": 0},
     "encoding": {
      "x": {"datum": 0, "type": "quantitative", "scale": {"domain": [0, 2.1538], "nice": false, "zero": false},
            "axis": {"orient": "bottom", "title": null, "values": [0,0.2,0.4,0.6,0.8,1,1.2,1.4,1.6,1.8,2], "labelExpr": "round(datum.value*10)%4==0 ? format(datum.value,'.1f') : ''", "tickSize": {"condition": {"test": "round(datum.value*10)%4==0", "value": 6}, "value": 3}, "labelPadding": 4}},
      "y": {"datum": 0, "type": "quantitative", "scale": {"domain": [-0.5, 2], "nice": false, "zero": false},
            "axis": {"orient": "right", "title": null, "labels": false, "values": [-0.5,-0.25,0,0.25,0.5,0.75,1,1.25,1.5,1.75,2], "tickSize": {"condition": {"test": "round(datum.value*4)%2==0", "value": -6}, "value": -3}}}
     }}
   ]
  },
  {
   "width": 434, "height": 349,
   "resolve": {"scale": {"x": "independent", "y": "independent"}},
   "layer": [
    {"layer": [
      {"data": {"name": "B"},
       "mark": {"type": "line", "strokeWidth": 1, "point": {"filled": true, "size": 26, "shape": "triangle-up"}},
       "encoding": {
        "x": {"field": "x", "type": "quantitative", "scale": {"domain": [0, 2.8], "nice": false, "zero": false},
              "axis": {"orient": "top", "title": "Capacity (Ah)", "values": [0,0.2,0.4,0.6,0.8,1,1.2,1.4,1.6,1.8,2,2.2,2.4,2.6,2.8], "labelExpr": "round(datum.value*10)%4==0 ? format(datum.value,'.1f') : ''", "tickSize": {"condition": {"test": "round(datum.value*10)%4==0", "value": -6}, "value": -3}, "labelPadding": 14, "titlePadding": 8}},
        "y": {"field": "y", "type": "quantitative", "scale": {"domain": [-0.5, 2], "nice": false, "zero": false},
              "axis": {"orient": "left", "title": "Differential Voltage, dV/dQ (Ah/V)", "titleY": 162, "values": [-0.5,-0.25,0,0.25,0.5,0.75,1,1.25,1.5,1.75,2], "labelExpr": "round(datum.value*4)%2==0 ? format(datum.value,'.1f') : ''", "tickSize": {"condition": {"test": "round(datum.value*4)%2==0", "value": 6}, "value": 3}, "labelPadding": 4, "titlePadding": 14}},
        "color": {"field": "c", "type": "nominal", "scale": {"domain": ["1","2","5","10","20","30","40"], "range": ["#000000","#7e1a7e","#8c268c","#993699","#b064b0","#c892c8","#dcb8dc"]},
              "legend": {"orient": "none", "legendX": 352, "legendY": 98, "title": "Cycle", "titleFontSize": 18, "titleFontWeight": "normal", "titleColor": "#111", "titlePadding": 4, "labelFontSize": 18, "labelColor": "#111", "labelOffset": 31, "symbolType": "M-1.33,0L5.67,0M1.62,0.4L2.17,-0.5L2.72,0.4ZM1.84,0.22L2.17,-0.25L2.5,0.22ZM2.05,0.08L2.17,-0.06L2.29,0.08Z", "symbolSize": 144, "symbolStrokeWidth": 1, "rowPadding": 4, "padding": 0}}
       }},
      {"data": {"values": [{}]}, "mark": {"type": "rule", "color": "#111", "strokeWidth": 1.2}, "encoding": {"y": {"datum": 0}}},
      {"data": {"values": [{}]}, "mark": {"type": "point", "shape": "circle", "size": 2124, "filled": false, "stroke": "#111", "strokeWidth": 1.5, "opacity": 1}, "encoding": {"x": {"datum": 0.523}, "y": {"datum": -0.203}}},
      {"data": {"values": [{}]}, "mark": {"type": "text", "text": "B", "fontSize": 21, "fontWeight": "bold", "color": "#111"}, "encoding": {"x": {"datum": -0.4}, "y": {"datum": 2.18}}},
      {"data": {"values": [{}]}, "mark": {"type": "text", "text": "Transient", "align": "right", "fontSize": 25, "fontWeight": "bold", "fontStyle": "italic", "color": "#7a127a"}, "encoding": {"x": {"datum": 1.348}, "y": {"datum": 2.544}}},
      {"data": {"values": [{}]}, "mark": {"type": "text", "text": "40 to 0˚C", "align": "left", "fontSize": 25, "fontWeight": "bold", "color": "#7a127a"}, "encoding": {"x": {"datum": 1.381}, "y": {"datum": 2.544}}}
    ]},
    {"data": {"values": [{}]}, "mark": {"type": "point", "opacity": 0},
     "encoding": {
      "x": {"datum": 0, "type": "quantitative", "scale": {"domain": [0, 2.1538], "nice": false, "zero": false},
            "axis": {"orient": "bottom", "title": null, "values": [0,0.2,0.4,0.6,0.8,1,1.2,1.4,1.6,1.8,2], "labelExpr": "round(datum.value*10)%4==0 ? format(datum.value,'.1f') : ''", "tickSize": {"condition": {"test": "round(datum.value*10)%4==0", "value": 6}, "value": 3}, "labelPadding": 4}},
      "y": {"datum": 0, "type": "quantitative", "scale": {"domain": [-0.5, 2], "nice": false, "zero": false},
            "axis": {"orient": "right", "title": null, "labels": false, "values": [-0.5,-0.25,0,0.25,0.5,0.75,1,1.25,1.5,1.75,2], "tickSize": {"condition": {"test": "round(datum.value*4)%2==0", "value": -6}, "value": -3}}}
     }}
   ]
  }
 ]
},
{
 "title": {"text": "Discharge", "orient": "left", "anchor": "middle", "fontSize": 25, "fontWeight": "bold", "color": "#111", "offset": 26},
 "spacing": 47,
 "resolve": {"scale": {"color": "independent"}, "legend": {"color": "independent"}},
 "hconcat": [
  {
   "width": 434, "height": 349,
   "resolve": {"scale": {"x": "independent", "y": "independent"}},
   "layer": [
    {"layer": [
      {"data": {"name": "C"},
       "mark": {"type": "line", "strokeWidth": 1, "point": {"filled": true, "size": 28}},
       "encoding": {
        "x": {"field": "x", "type": "quantitative", "scale": {"domain": [0, 2.8], "nice": false, "zero": false},
              "axis": {"orient": "bottom", "title": "Capacity (Ah)", "values": [0,0.2,0.4,0.6,0.8,1,1.2,1.4,1.6,1.8,2,2.2,2.4,2.6,2.8], "labelExpr": "round(datum.value*10)%4==0 ? format(datum.value,'.1f') : ''", "tickSize": {"condition": {"test": "round(datum.value*10)%4==0", "value": 6}, "value": 3}, "labelPadding": 5, "titlePadding": 10}},
        "y": {"field": "y", "type": "quantitative", "scale": {"domain": [-2, 0.5], "nice": false, "zero": false},
              "axis": {"orient": "left", "title": "Differential Voltage, dV/dQ (V/Ah)", "titleY": 162, "values": [-2,-1.75,-1.5,-1.25,-1,-0.75,-0.5,-0.25,0,0.25,0.5], "labelExpr": "round(datum.value*4)%2==0 ? format(datum.value,'.1f') : ''", "tickSize": {"condition": {"test": "round(datum.value*4)%2==0", "value": 6}, "value": 3}, "labelPadding": 4, "titlePadding": 14}},
        "color": {"field": "c", "type": "nominal", "scale": {"domain": ["1","2","5","10","20","30","40"], "range": ["#000000","#1a1a9e","#2121ad","#3535b8","#5a5ac6","#8585d4","#b3b3e4"]},
              "legend": {"orient": "none", "legendX": 345, "legendY": 163, "title": "Cycle", "titleFontSize": 18, "titleFontWeight": "normal", "titleColor": "#111", "titlePadding": 4, "labelFontSize": 18, "labelColor": "#111", "labelOffset": 31, "symbolType": "M-1.33,0L5.67,0M1.67,0A0.5,0.5,0,1,0,2.67,0A0.5,0.5,0,1,0,1.67,0ZM1.87,0A0.3,0.3,0,1,0,2.47,0A0.3,0.3,0,1,0,1.87,0ZM2.05,0A0.12,0.12,0,1,0,2.29,0A0.12,0.12,0,1,0,2.05,0Z", "symbolSize": 144, "symbolStrokeWidth": 1, "rowPadding": 4, "padding": 0}}
       }},
      {"data": {"values": [{}]}, "mark": {"type": "rule", "color": "#111", "strokeWidth": 1.2}, "encoding": {"y": {"datum": 0}}},
      {"data": {"name": "arrC"}, "mark": {"type": "line", "color": "#8a8a8a", "strokeWidth": 3.5, "strokeDash": [9, 5]}, "encoding": {"x": {"field": "x", "type": "quantitative"}, "y": {"field": "y", "type": "quantitative"}, "order": {"field": "i"}}},
      {"data": {"values": [{}]}, "mark": {"type": "point", "shape": "triangle-up", "size": 170, "filled": true, "color": "#8a8a8a", "opacity": 1, "angle": 207}, "encoding": {"x": {"datum": 1.338}, "y": {"datum": -0.79}}},
      {"data": {"values": [{}]}, "mark": {"type": "text", "text": "C", "fontSize": 21, "fontWeight": "bold", "color": "#111"}, "encoding": {"x": {"datum": -0.4}, "y": {"datum": 0.736}}}
    ]},
    {"data": {"values": [{}]}, "mark": {"type": "point", "opacity": 0},
     "encoding": {
      "x": {"datum": 0, "type": "quantitative", "scale": {"domain": [0, 2.1538], "nice": false, "zero": false},
            "axis": {"orient": "top", "title": "Time (h)", "values": [0,0.2,0.4,0.6,0.8,1,1.2,1.4,1.6,1.8,2], "labelExpr": "round(datum.value*10)%4==0 ? format(datum.value,'.1f') : ''", "tickSize": {"condition": {"test": "round(datum.value*10)%4==0", "value": -6}, "value": -3}, "labelPadding": 14, "titlePadding": 6}},
      "y": {"datum": 0, "type": "quantitative", "scale": {"domain": [-2, 0.5], "nice": false, "zero": false},
            "axis": {"orient": "right", "title": null, "labels": false, "values": [-2,-1.75,-1.5,-1.25,-1,-0.75,-0.5,-0.25,0,0.25,0.5], "tickSize": {"condition": {"test": "round(datum.value*4)%2==0", "value": -6}, "value": -3}}}
     }}
   ]
  },
  {
   "width": 434, "height": 349,
   "resolve": {"scale": {"x": "independent", "y": "independent"}},
   "layer": [
    {"layer": [
      {"data": {"name": "D"},
       "mark": {"type": "line", "strokeWidth": 1, "point": {"filled": true, "size": 26, "shape": "triangle-up"}},
       "encoding": {
        "x": {"field": "x", "type": "quantitative", "scale": {"domain": [0, 2.8], "nice": false, "zero": false},
              "axis": {"orient": "bottom", "title": "Capacity (Ah)", "values": [0,0.2,0.4,0.6,0.8,1,1.2,1.4,1.6,1.8,2,2.2,2.4,2.6,2.8], "labelExpr": "round(datum.value*10)%4==0 ? format(datum.value,'.1f') : ''", "tickSize": {"condition": {"test": "round(datum.value*10)%4==0", "value": 6}, "value": 3}, "labelPadding": 5, "titlePadding": 10}},
        "y": {"field": "y", "type": "quantitative", "scale": {"domain": [-2, 0.5], "nice": false, "zero": false},
              "axis": {"orient": "left", "title": "Differential Voltage, dV/dQ (V/Ah)", "titleY": 162, "values": [-2,-1.75,-1.5,-1.25,-1,-0.75,-0.5,-0.25,0,0.25,0.5], "labelExpr": "round(datum.value*4)%2==0 ? format(datum.value,'.1f') : ''", "tickSize": {"condition": {"test": "round(datum.value*4)%2==0", "value": 6}, "value": 3}, "labelPadding": 4, "titlePadding": 14}},
        "color": {"field": "c", "type": "nominal", "scale": {"domain": ["1","2","5","10","20","30","40"], "range": ["#000000","#7e1a7e","#8c268c","#993699","#b064b0","#c892c8","#dcb8dc"]},
              "legend": {"orient": "none", "legendX": 345, "legendY": 163, "title": "Cycle", "titleFontSize": 18, "titleFontWeight": "normal", "titleColor": "#111", "titlePadding": 4, "labelFontSize": 18, "labelColor": "#111", "labelOffset": 31, "symbolType": "M-1.33,0L5.67,0M1.62,0.4L2.17,-0.5L2.72,0.4ZM1.84,0.22L2.17,-0.25L2.5,0.22ZM2.05,0.08L2.17,-0.06L2.29,0.08Z", "symbolSize": 144, "symbolStrokeWidth": 1, "rowPadding": 4, "padding": 0}}
       }},
      {"data": {"values": [{}]}, "mark": {"type": "rule", "color": "#111", "strokeWidth": 1.2}, "encoding": {"y": {"datum": 0}}},
      {"data": {"name": "arrD"}, "mark": {"type": "line", "color": "#8a8a8a", "strokeWidth": 3.5, "strokeDash": [9, 5]}, "encoding": {"x": {"field": "x", "type": "quantitative"}, "y": {"field": "y", "type": "quantitative"}, "order": {"field": "i"}}},
      {"data": {"values": [{}]}, "mark": {"type": "point", "shape": "triangle-up", "size": 170, "filled": true, "color": "#8a8a8a", "opacity": 1, "angle": 205}, "encoding": {"x": {"datum": 1.25}, "y": {"datum": -0.85}}},
      {"data": {"values": [{}]}, "mark": {"type": "text", "text": "D", "fontSize": 21, "fontWeight": "bold", "color": "#111"}, "encoding": {"x": {"datum": -0.4}, "y": {"datum": 0.736}}}
    ]},
    {"data": {"values": [{}]}, "mark": {"type": "point", "opacity": 0},
     "encoding": {
      "x": {"datum": 0, "type": "quantitative", "scale": {"domain": [0, 2.1538], "nice": false, "zero": false},
            "axis": {"orient": "top", "title": "Time (h)", "values": [0,0.2,0.4,0.6,0.8,1,1.2,1.4,1.6,1.8,2], "labelExpr": "round(datum.value*10)%4==0 ? format(datum.value,'.1f') : ''", "tickSize": {"condition": {"test": "round(datum.value*10)%4==0", "value": -6}, "value": -3}, "labelPadding": 14, "titlePadding": 6}},
      "y": {"datum": 0, "type": "quantitative", "scale": {"domain": [-2, 0.5], "nice": false, "zero": false},
            "axis": {"orient": "right", "title": null, "labels": false, "values": [-2,-1.75,-1.5,-1.25,-1,-0.75,-0.5,-0.25,0,0.25,0.5], "tickSize": {"condition": {"test": "round(datum.value*4)%2==0", "value": -6}, "value": -3}}}
     }}
   ]
  }
 ]
}
]
}
